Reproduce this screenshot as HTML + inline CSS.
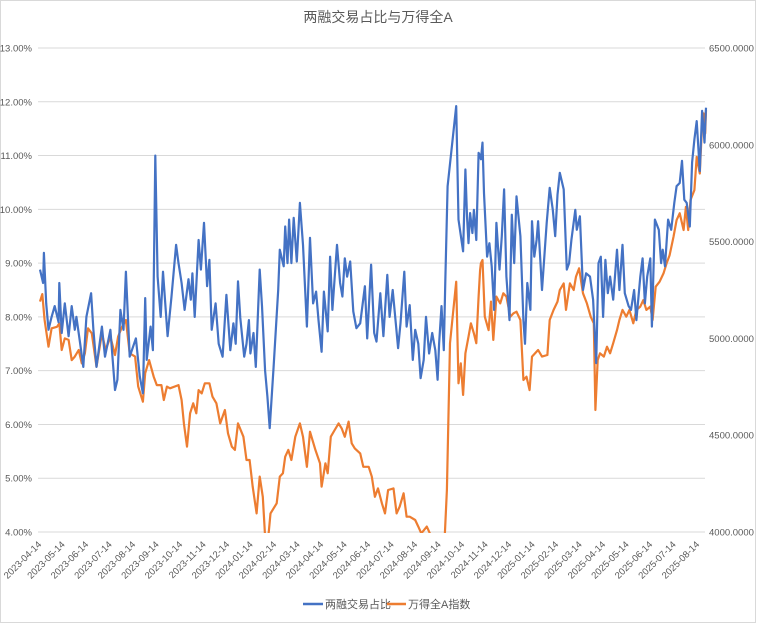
<!DOCTYPE html>
<html><head><meta charset="utf-8"><style>
body{margin:0;background:#fff}
svg{display:block;font-family:"Liberation Sans","Noto Sans CJK SC",sans-serif}
</style></head><body>
<svg id="chart" width="757" height="624" viewBox="0 0 757 624">
<rect x="0.5" y="0.5" width="755" height="622" fill="#fff" stroke="#d9d9d9"/>
<text x="378" y="22" text-anchor="middle" font-size="14" fill="#595959">两融交易占比与万得全A</text>
<g id="grid"></g><g id="yl"></g><g id="yr"></g><g id="xl"></g>
<defs><clipPath id="pc"><rect x="38" y="44" width="670" height="489"/></clipPath></defs>
<g id="series" clip-path="url(#pc)"></g>
<g>
<line x1="303" y1="604" x2="323" y2="604" stroke="#4472c4" stroke-width="2.5"/>
<text x="325" y="608" font-size="11" fill="#595959">两融交易占比</text>
<line x1="387" y1="604" x2="406" y2="604" stroke="#ed7d31" stroke-width="2.5"/>
<text x="408" y="608" font-size="11" fill="#595959">万得全A指数</text>
</g>
</svg>
<script>
const leftTicks=[4,5,6,7,8,9,10,11,12,13];
const rightTicks=[4000,4500,5000,5500,6000,6500];
const months=["2023-04-14","2023-05-14","2023-06-14","2023-07-14","2023-08-14","2023-09-14","2023-10-14","2023-11-14","2023-12-14","2024-01-14","2024-02-14","2024-03-14","2024-04-14","2024-05-14","2024-06-14","2024-07-14","2024-08-14","2024-09-14","2024-10-14","2024-11-14","2024-12-14","2025-01-14","2025-02-14","2025-03-14","2025-04-14","2025-05-14","2025-06-14","2025-07-14","2025-08-14"];
// days since 2023-04-14
const marginDays=[0,4,5,8,11,15,19,24,25,28,32,37,41,45,47,52,56,60,66,69,73,80,84,91,97,100,104,108,111,116,124,129,133,136,138,143,146,149,152,156,159,165,170,176,179,183,187,192,195,197,200,205,208,212,216,219,222,227,231,236,241,246,250,253,256,259,264,267,270,272,276,279,284,287,291,294,297,302,308,310,
315,317,320,322,325,328,332,336,340,345,349,353,357,360,364,367,372,375,378,384,388,391,394,397,401,405,409,414,420,423,428,432,435,440,444,449,452,456,460,463,466,471,474,478,482,485,489,492,496,499,503,507,511,514,516,519,522,524,527,538,541,547,550,552,554,556,559,561,564,567,569,
570,572,574,578,581,584,587,590,594,597,600,603,607,610,613,616,621,625,627,630,634,636,639,642,644,649,655,659,663,666,669,672,677,681,684,687,692,694,698,702,706,711,715,719,722,725,728,731,734,737,741,746,749,753,756,761,764,768,771,776,779,782,785,789,791,795,800,803,805,808,812,816,820,823,827,830,833,836,840,843,846,849,853,856,859,861];
const marginRatio=[8.88,8.63,9.19,8.25,7.76,8.0,8.2,7.9,8.63,7.7,8.25,7.64,8.2,7.76,8.0,7.5,7.07,8.0,8.44,7.76,7.07,7.82,7.26,7.76,6.64,6.83,8.13,7.76,8.84,7.26,7.6,6.89,6.58,8.35,7.2,7.82,7.38,11.0,8.75,8.0,8.84,7.64,8.38,9.34,9.0,8.63,8.13,8.7,8.32,8.81,8.0,9.43,8.88,9.75,8.57,9.06,7.76,8.25,7.5,7.26,8.41,7.38,7.88,7.5,8.66,7.98,7.26,7.5,7.94,7.32,7.7,7.07,8.88,8.2,7.0,6.52,5.93,7.07,8.5,9.25,
8.94,9.68,9.0,9.81,9.0,9.84,9.03,10.12,9.34,7.82,9.47,8.25,8.47,7.94,7.35,8.47,7.73,9.12,8.13,9.34,8.63,8.38,9.09,8.75,9.03,8.1,7.79,7.88,8.57,7.6,8.97,7.7,7.54,8.44,7.64,8.78,8.0,8.5,7.88,7.42,7.88,8.84,7.82,8.22,7.2,7.76,7.5,6.86,7.2,8.0,7.32,7.7,7.38,6.83,7.5,8.2,7.38,8.66,10.43,11.92,9.81,9.22,10.74,9.87,9.37,9.93,9.56,9.99,9.43,11.05,11.0,
10.93,11.24,10.3,9.12,9.37,8.94,8.13,9.75,8.88,9.5,10.37,8.75,7.94,9.9,9.0,10.24,9.5,7.94,7.5,8.63,8.13,9.78,9.12,9.43,9.78,8.5,9.75,10.4,9.99,9.5,10.27,10.68,10.37,8.88,9.0,9.43,9.99,9.62,9.87,8.5,8.81,8.75,8.32,7.14,9.0,9.12,8.0,9.06,8.44,8.75,8.32,9.25,8.5,9.34,8.44,8.2,8.13,8.5,7.94,8.75,9.09,8.25,8.75,9.09,7.82,9.81,9.62,9.0,9.25,8.94,9.81,9.62,10.12,10.43,10.49,10.9,10.18,10.12,9.68,10.87,11.3,11.64,10.71,11.83,11.24,11.89];
const indexDays=[0,3,6,11,15,22,25,28,32,37,41,45,50,54,58,62,67,73,80,85,91,97,101,106,111,116,123,127,133,136,141,147,151,157,160,164,168,179,183,186,190,194,198,202,205,209,213,219,223,228,233,239,243,248,252,256,263,267,271,275,280,284,288,291,294,298,306,310,
314,317,321,325,330,336,340,345,349,356,362,364,369,372,376,381,386,390,394,399,403,407,414,418,425,429,433,437,442,446,450,457,461,465,470,474,478,485,489,493,500,504,513,522,526,530,538,541,544,547,550,554,557,561,564,567,569,
570,572,575,580,583,586,590,595,599,603,608,612,616,621,625,629,633,636,640,644,649,656,659,664,669,672,677,680,685,690,693,697,702,707,712,716,718,721,724,729,733,737,741,746,749,753,758,762,767,771,776,780,784,789,792,796,801,806,810,814,819,823,827,832,835,838,841,846,849,853,856,858,860,861];
const windA=[5190,5229,5095,4957,5052,5060,5078,4940,5000,4992,4888,4906,4940,4871,4923,5052,5026,4854,5026,4940,5009,4914,5009,5060,5095,4923,4906,4751,4673,4820,4888,4802,4759,4759,4682,4751,4742,4759,4682,4561,4441,4613,4665,4613,4733,4716,4768,4768,4699,4665,4561,4630,4510,4441,4424,4561,4492,4372,4372,4234,4096,4286,4182,3976,3924,4096,4148,4286,
4303,4389,4424,4372,4492,4561,4492,4337,4518,4424,4355,4234,4355,4303,4492,4527,4561,4535,4492,4570,4458,4432,4406,4337,4337,4286,4182,4225,4148,4096,4217,4225,4096,4131,4200,4079,4079,4062,4028,3993,4028,3993,3890,3873,4217,4975,5293,4768,4871,4708,4923,5009,5078,5026,4975,5216,5353,
5388,5405,5112,5043,5190,4992,5216,5181,5233,5216,5112,5129,5138,5095,4785,4802,4733,4906,4923,4940,4906,4914,5095,5147,5190,5250,5284,5147,5284,5250,5319,5362,5233,5181,5112,5078,4630,4888,4923,4906,4957,4923,4975,5043,5095,5147,5112,5147,5078,5147,5164,5198,5147,5164,5095,5267,5293,5336,5388,5430,5525,5611,5646,5560,5680,5560,5715,5766,5938,5852,6110,6162,6059,6180];
const NS="http://www.w3.org/2000/svg";
const X0=40,X1=706,Y0=532,Y1=48,DMAX=861;
const yL=v=>Y0-(v-4)/9*(Y0-Y1);
const yR=v=>Y0-(v-4000)/2500*(Y0-Y1);
const xD=d=>X0+d/DMAX*(X1-X0);
function mk(tag,attrs,parent){const e=document.createElementNS(NS,tag);for(const k in attrs)e.setAttribute(k,attrs[k]);parent.appendChild(e);return e;}
const grid=document.getElementById('grid'),yl=document.getElementById('yl'),yr=document.getElementById('yr'),xl=document.getElementById('xl'),ser=document.getElementById('series');
leftTicks.forEach(v=>{
 const l=mk('line',{x1:38,x2:705,y1:yL(v),y2:yL(v),stroke:'#d9d9d9','stroke-width':1},grid);
 
 
 const t=mk('text',{x:32,y:yL(v)+3.5,'text-anchor':'end','font-size':9.5,fill:'#595959'},yl);
 t.textContent=v.toFixed(2)+'%';
 
 
});
rightTicks.forEach(v=>{
 const t=mk('text',{x:709,y:yR(v)+3.5,'font-size':9.5,fill:'#595959'},yr);
 t.textContent=v.toFixed(4);
 
 
});
months.forEach((m,i)=>{
 const x=42+i*23.5;
 const t=mk('text',{x:x,y:545,'text-anchor':'end','font-size':9.5,fill:'#595959',transform:`rotate(-45 ${x} 545)`},xl);
 t.textContent=m;
 
 
});
function line(days,arr,yf,color,name){
 const d=arr.map((v,i)=>(i?'L':'M')+xD(days[i]).toFixed(1)+' '+yf(v).toFixed(1)).join('');
 const p=mk('path',{d:d,fill:'none',stroke:color,'stroke-width':2.2,'stroke-linejoin':'round'},ser);
 
 
}
line(indexDays,windA,yR,'#ed7d31','wind-a-index-line');
line(marginDays,marginRatio,yL,'#4472c4','margin-ratio-line');
</script>
</body></html>
